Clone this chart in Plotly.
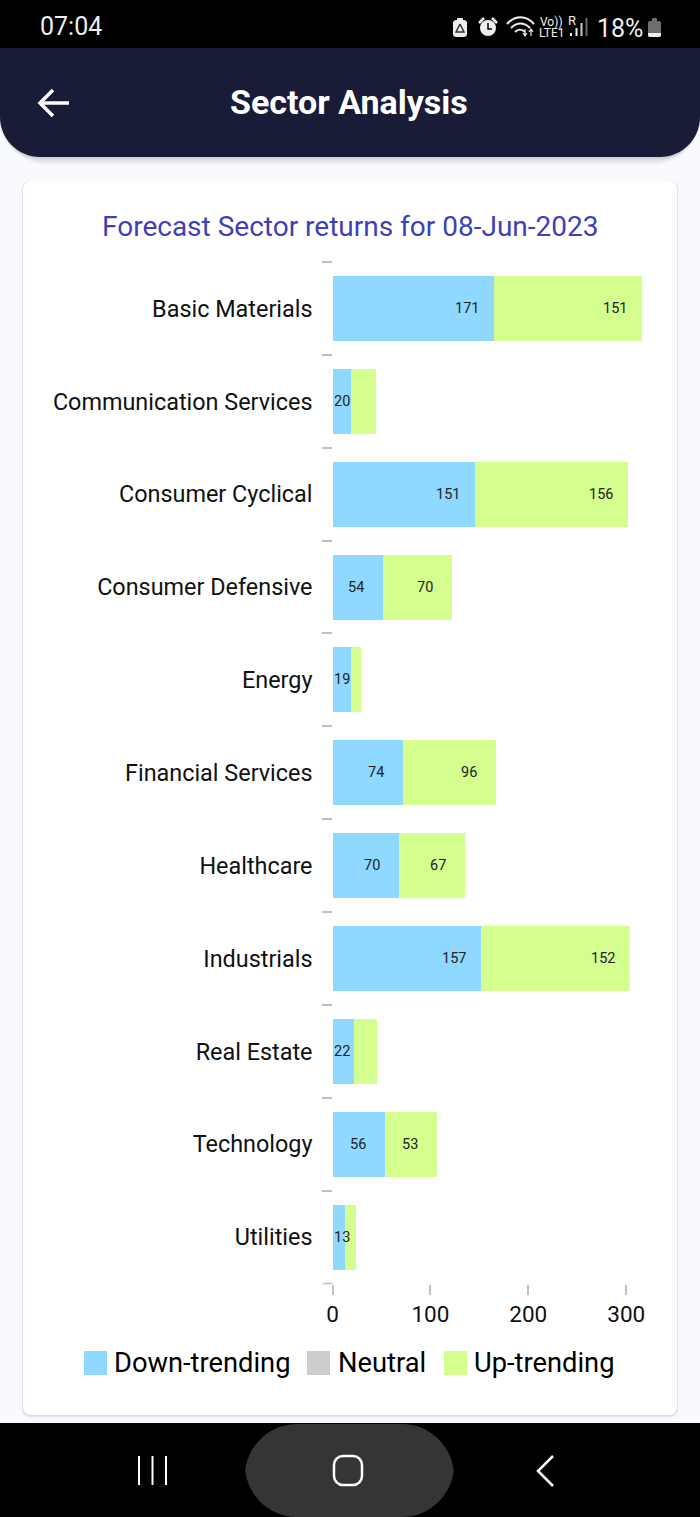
import plotly.graph_objects as go

W, H = 700, 1517

categories = ["Basic Materials", "Communication Services", "Consumer Cyclical", "Consumer Defensive",
              "Energy", "Financial Services", "Healthcare", "Industrials", "Real Estate", "Technology", "Utilities"]
down_values = [164.8, 19.4, 146, 52, 18.9, 71.5, 68, 151.7, 22, 54, 12.8]
neutral_values = [0, 0, 0, 0, 0, 0, 0, 0, 0, 0, 0]
up_values = [151, 25, 156, 70, 9.7, 96, 67, 152, 23.5, 53, 10.7]
down_labels = [171, 20, 151, 54, 19, 74, 70, 157, 22, 56, 13]
up_labels = [151, None, 156, 70, None, 96, 67, 152, None, 53, None]
tick_values = [0, 100, 200, 300]
series_names = ["Down-trending", "Neutral", "Up-trending"]

BLUE, GREY, GREEN = "#8fd8ff", "#cccccc", "#d4ff8f"
INK = "#000000"
FONT = "Roboto"


def px(x):
    return x / W


def py(y):
    return 1 - y / H


def P(*cmds):
    """Build an SVG path in paper coords from pixel tuples."""
    out = []
    for c in cmds:
        op = c[0]
        nums = c[1:]
        pts = [f"{px(nums[i]):.5f},{py(nums[i+1]):.5f}" for i in range(0, len(nums), 2)]
        out.append(op + " ".join(pts))
    return " ".join(out)


def rrect(x0, y0, x1, y1, rt, rb):
    k = 0.45
    return P(("M", x0 + rt, y0), ("L", x1 - rt, y0),
             ("C", x1 - rt * k, y0, x1, y0 + rt * k, x1, y0 + rt),
             ("L", x1, y1 - rb),
             ("C", x1, y1 - rb * k, x1 - rb * k, y1, x1 - rb, y1),
             ("L", x0 + rb, y1),
             ("C", x0 + rb * k, y1, x0, y1 - rb * k, x0, y1 - rb),
             ("L", x0, y0 + rt),
             ("C", x0, y0 + rt * k, x0 + rt * k, y0, x0 + rt, y0)) + " Z"


shapes = []


def fill(path, color, layer="below"):
    shapes.append(dict(type="path", xref="paper", yref="paper", path=path, fillcolor=color,
                       line=dict(width=0), layer=layer))


def stroke(path, color="#ffffff", w=2):
    shapes.append(dict(type="path", xref="paper", yref="paper", path=path, fillcolor="rgba(0,0,0,0)",
                       line=dict(width=w, color=color), layer="below"))


notes = []


def label(x, y, text, size, color=INK, anchor="center", weight=None):
    t = f"<b>{text}</b>" if weight else text
    notes.append(dict(xref="paper", yref="paper", x=px(x), y=py(y), text=t, showarrow=False,
                      xanchor=anchor, yanchor="middle", font=dict(family=FONT, size=size, color=color)))


# page background, status bar and app header
fill(rrect(0, 0, W, H, 0, 0), "#f8fafd")
for i, a in enumerate([0.03, 0.04, 0.05, 0.07]):
    d = 8 - 2 * i
    fill(rrect(0, 48, W, 157 + d, 0, 40 + d), f"rgba(30,30,50,{a})")
fill(rrect(0, 48, W, 157, 0, 40), "#181c37")
fill(rrect(0, 0, W, 48, 0, 0), "#000000")
stroke(P(("M", 69, 103), ("L", 41, 103)), w=3.5)
stroke(P(("M", 53, 90), ("L", 40, 103), ("L", 53, 116)), w=3.5)
label(349, 102, "Sector Analysis", 34, "#ffffff", weight=True)
label(71, 27, "07:04", 25, "#eeeeee")
label(620, 28, "18%", 25, "#eeeeee")
# status icons
fill(rrect(453, 20, 467, 37, 3, 3), "#eeeeee")
fill(rrect(457, 18, 463, 21, 1, 0), "#eeeeee")
stroke(P(("M", 460, 24), ("L", 456, 32), ("L", 464, 32), ("L", 460, 24)), "#333333", 1.5)
shapes.append(dict(type="circle", xref="paper", yref="paper", x0=px(480), x1=px(496), y0=py(36), y1=py(20),
                   fillcolor="#eeeeee", line=dict(width=0), layer="below"))
stroke(P(("M", 479, 23), ("L", 484, 18)), "#eeeeee", 2.5)
stroke(P(("M", 492, 18), ("L", 497, 23)), "#eeeeee", 2.5)
stroke(P(("M", 488, 23), ("L", 488, 29), ("L", 492, 29)), "#000000", 1.5)
stroke(P(("M", 507, 24), ("C", 515, 15, 526, 15, 534, 24)), "#eeeeee", 2)
stroke(P(("M", 511, 28), ("C", 517, 22, 524, 22, 530, 28)), "#eeeeee", 2)
stroke(P(("M", 515, 32), ("C", 518, 29, 522, 29, 525, 32)), "#eeeeee", 2)
stroke(P(("M", 525, 35), ("L", 525, 29), ("M", 523, 33), ("L", 525, 36), ("L", 527, 33)), "#eeeeee", 1.2)
stroke(P(("M", 531, 36), ("L", 531, 30), ("M", 529, 32), ("L", 531, 29), ("L", 533, 32)), "#eeeeee", 1.2)
label(551, 22, "Vo))", 12, "#eeeeee")
label(552, 33, "LTE1", 12, "#eeeeee")
label(572, 21, "R", 13, "#eeeeee")
for x, top, col in [(571, 33, "#eeeeee"), (576.5, 28, "#eeeeee"), (581.5, 23, "#cccccc"), (586.5, 18, "#666666")]:
    fill(rrect(x - 1, top, x + 1, 36, 0, 0), col)
fill(rrect(648, 21, 661, 37, 2, 2), "#6e6e6e")
fill(rrect(648, 33, 661, 37, 0, 2), "#eeeeee")
fill(rrect(652, 18, 657, 21, 1, 0), "#6e6e6e")

# card
for i, a in enumerate([0.03, 0.05, 0.08]):
    d = 3 - i
    fill(rrect(23 - d * .5, 181, 677 + d * .5, 1415 + d, 8, 8), f"rgba(60,60,80,{a})")
fill(rrect(23, 181, 677, 1415, 8, 8), "#ffffff")
label(350, 226, "Forecast Sector returns for 08-Jun-2023", 28, "#3f3fb8")

# legend
for sx, tx, name, col in [(84, 112, series_names[0], BLUE), (307, 336, series_names[1], GREY),
                          (444, 472, series_names[2], GREEN)]:
    fill(rrect(sx, 1351, sx + 23, 1375, 0, 0), col)
    label(tx, 1363, name, 27.3, INK, "left")

# bottom navigation
fill(rrect(0, 1423, W, H, 0, 0), "#000000")
fill(rrect(245, 1424, 454, H, 52, 52), "#353535")
for x in [139, 152.5, 166]:
    stroke(P(("M", x, 1456), ("L", x, 1485)), w=2)
shapes.append(dict(type="path", xref="paper", yref="paper", path=rrect(334, 1456, 362, 1485, 9, 9),
                   fillcolor="rgba(0,0,0,0)", line=dict(width=2.5, color="#ffffff"), layer="below"))
stroke(P(("M", 553, 1456), ("L", 538, 1471), ("L", 553, 1486)), w=2.5)

# value labels, anchored to the stacked bar ends through the data axis
ann = []
for c, d, u, dl, ul in zip(categories, down_values, up_values, down_labels, up_labels):
    if d < 30:
        ann.append(dict(x=0, y=c, text=str(dl), xshift=9.5))
    else:
        ann.append(dict(x=d, y=c, text=str(dl), xshift=-27))
    if ul is not None:
        ann.append(dict(x=d + u, y=c, text=str(ul), xshift=-27))
for a in ann:
    a.update(xref="x", yref="y", showarrow=False, xanchor="center", yanchor="middle",
             font=dict(family=FONT, size=14.5, color="#222222"))

fig = go.Figure()
for name, vals, col in zip(series_names, [down_values, neutral_values, up_values], [BLUE, GREY, GREEN]):
    fig.add_bar(name=name, y=categories, x=vals, orientation="h", marker=dict(color=col, line=dict(width=0)),
                hoverinfo="x+y")

AXIS_X0, AXIS_X1 = 332.5, 660
Y0, Y1 = 262, 1283.5
SCALE = 0.979
TICK = "#bcc0cc"

# corner tick closing the last category band
stroke(P(("M", 323, Y1), ("L", AXIS_X0, Y1)), TICK, 1.5)

fig.update_layout(
    width=W, height=H, autosize=False, margin=dict(l=0, r=0, t=0, b=0, pad=0, autoexpand=False),
    paper_bgcolor="#f8fafd", plot_bgcolor="rgba(0,0,0,0)",
    barmode="stack", bargap=0.3, showlegend=False,
    font=dict(family=FONT, color=INK),
    shapes=shapes, annotations=notes + ann,
    xaxis=dict(domain=[px(AXIS_X0), px(AXIS_X1)], range=[0, (AXIS_X1 - AXIS_X0) / SCALE], anchor="y",
               automargin=False,
               tickmode="array", tickvals=tick_values, ticks="outside", ticklen=10, tickwidth=1.5, tickcolor=TICK,
               showgrid=False, zeroline=False, showline=False, tickfont=dict(family=FONT, size=22.5, color="#111111")),
    yaxis=dict(domain=[py(Y1), py(Y0)], autorange="reversed", anchor="x", type="category",
               automargin=False,
               categoryorder="array", categoryarray=categories,
               ticks="outside", tickson="boundaries", ticklen=10, tickwidth=1.5, tickcolor=TICK, ticklabelstandoff=19,
               showgrid=False, zeroline=False, showline=False, tickfont=dict(family=FONT, size=23.4, color="#111111")),
)

fig.write_html("out.html", config=dict(displayModeBar=False),
               post_script="document.documentElement.style.margin='0';document.body.style.margin='0';"
                           "document.body.style.padding='0';document.body.style.overflow='hidden';")
